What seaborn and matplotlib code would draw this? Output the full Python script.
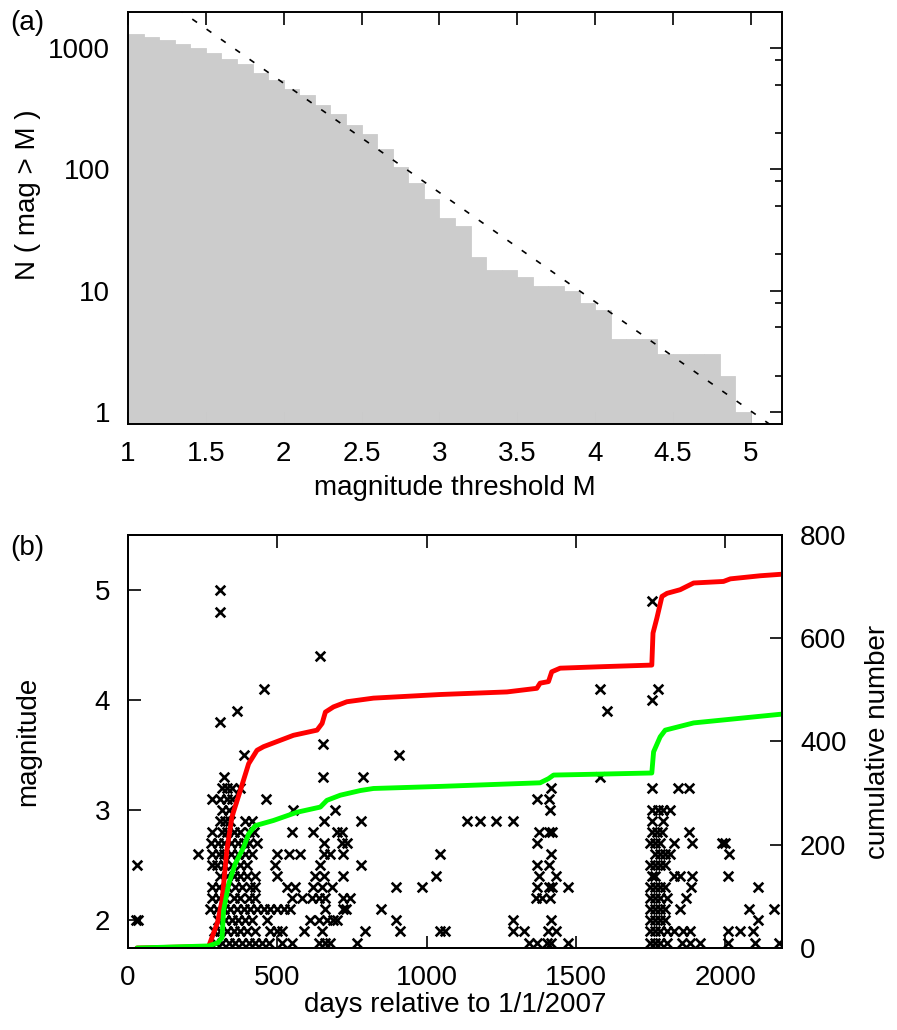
import numpy as np
import pandas as pd
import matplotlib
matplotlib.use('Agg')
import matplotlib.pyplot as plt
import seaborn as sns

# ---- panel (a): cumulative magnitude distribution ----
mag_threshold = [1.0, 1.1, 1.2, 1.3, 1.4, 1.5, 1.6, 1.7, 1.8, 1.9,
                 2.0, 2.1, 2.2, 2.3, 2.4, 2.5, 2.6, 2.7, 2.8, 2.9,
                 3.0, 3.1, 3.2, 3.3, 3.4, 3.5, 3.6, 3.7, 3.8, 3.9,
                 4.0, 4.1, 4.2, 4.3, 4.4, 4.5, 4.6, 4.7, 4.8, 4.9]
n_above = [1300, 1230, 1170, 1090, 1005, 915, 820, 745, 622, 542,
           463, 413, 342, 286, 234, 196, 148, 105, 77, 57,
           40, 34, 19, 15, 15, 13, 11, 11, 10, 8,
           7, 4, 4, 4, 3, 3, 3, 3, 2, 1]
gr_a = 4.51   # Gutenberg-Richter fit: log N = a - b M
gr_b = 0.90

# ---- panel (b): events (day, magnitude) read row by row ----
row_mags = [5.0, 4.9, 4.8, 4.4, 4.1, 4.0, 3.9, 3.8, 3.6, 3.5, 3.3, 3.2, 3.1, 3.0,
            2.9, 2.8, 2.7, 2.6, 2.5, 2.4, 2.3, 2.2, 2.1, 2.0, 1.9, 1.8]
row_days = [
    [309],
    [1754],
    [309],
    [644],
    [457, 1579, 1774],
    [1754],
    [365, 1604],
    [309],
    [653],
    [390, 909],
    [320, 653, 786, 1579],
    [315, 331, 348, 376, 1416, 1754, 1843, 1880],
    [281, 309, 331, 348, 463, 1371, 1411],
    [315, 337, 554, 694, 1414, 1754, 1776, 1793, 1816],
    [309, 326, 342, 393, 415, 655, 780, 1135, 1180, 1232, 1289, 1754, 1793],
    [281, 315, 331, 354, 376, 404, 421, 549, 621, 700, 716, 1376, 1411, 1420,
     1754, 1771, 1787, 1880],
    [277, 300, 322, 344, 367, 389, 405, 433, 655, 716, 733, 1371, 1749, 1765,
     1782, 1827, 1888, 1989, 2000],
    [236, 281, 304, 320, 344, 367, 393, 415, 499, 538, 577, 655, 678, 720, 1045,
     1416, 1765, 1782, 1799, 1816, 2011],
    [30, 281, 298, 320, 348, 376, 398, 493, 644, 780, 1371, 1411, 1749, 1765,
     1782, 1799],
    [309, 331, 354, 376, 398, 426, 499, 627, 655, 720, 1032, 1376, 1434, 1754,
     1765, 1827, 1849, 1888, 2008],
    [281, 304, 331, 359, 382, 410, 426, 532, 560, 621, 649, 683, 898, 985, 1371,
     1409, 1420, 1473, 1749, 1765, 1782, 1799, 1885, 2108],
    [281, 304, 326, 354, 376, 404, 426, 549, 582, 616, 638, 660, 720, 745, 1367,
     1386, 1414, 1749, 1765, 1782, 1804, 1869],
    [276, 298, 320, 342, 365, 387, 409, 432, 454, 476, 498, 521, 543, 660, 720,
     730, 847, 1749, 1765, 1782, 1799, 1849, 2078, 2164],
    [26, 33, 303, 326, 348, 370, 393, 415, 465, 610, 638, 666, 688, 700, 898,
     1289, 1416, 1749, 1765, 1782, 1799, 2108],
    [287, 309, 331, 354, 376, 398, 426, 476, 499, 515, 588, 649, 794, 912, 1045,
     1062, 1289, 1327, 1405, 1434, 1749, 1765, 1782, 1804, 1827, 1860, 1882,
     2008, 2050, 2092],
    [293, 315, 337, 359, 382, 404, 426, 449, 471, 515, 549, 638, 660, 678, 767,
     1344, 1369, 1403, 1416, 1475, 1749, 1765, 1782, 1804, 1855, 1882, 1916,
     2008, 2100, 2181],
]

# cumulative number curves (right axis)
red_days = [30, 270, 281, 300, 315, 331, 348, 376, 404, 432, 454, 554, 633, 650,
            661, 688, 733, 822, 1045, 1269, 1369, 1380, 1408, 1419, 1447, 1592,
            1754, 1758, 1771, 1788, 1805, 1849, 1894, 1994, 2017, 2117, 2189]
red_count = [0, 3, 20, 50, 92, 189, 254, 305, 357, 383, 390, 412, 422, 435,
             457, 467, 477, 484, 491, 496, 503, 513, 516, 535, 542, 545,
             548, 610, 639, 681, 687, 694, 707, 710, 715, 721, 724]
green_days = [30, 270, 300, 315, 320, 337, 359, 387, 404, 426, 487, 566, 644,
              666, 711, 778, 822, 1045, 1380, 1408, 1425, 1514, 1754, 1760,
              1782, 1799, 1894, 2189]
green_count = [0, 4, 10, 20, 72, 124, 163, 195, 221, 237, 247, 263, 273,
               286, 296, 305, 309, 313, 320, 328, 335, 336, 339, 380,
               409, 422, 436, 453]

sns.set_theme(style='ticks')
plt.rcParams['font.family'] = ['Liberation Sans', 'DejaVu Sans']
plt.rcParams['font.size'] = 20
plt.rcParams['axes.labelsize'] = 20
plt.rcParams['xtick.labelsize'] = 20
plt.rcParams['ytick.labelsize'] = 20
plt.rcParams['text.color'] = 'black'
plt.rcParams['axes.labelcolor'] = 'black'
plt.rcParams['axes.edgecolor'] = 'black'
plt.rcParams['xtick.color'] = 'black'
plt.rcParams['ytick.color'] = 'black'
plt.rcParams['axes.linewidth'] = 1.4
plt.rcParams['xtick.direction'] = 'in'
plt.rcParams['ytick.direction'] = 'in'
plt.rcParams['xtick.major.size'] = 9
plt.rcParams['ytick.major.size'] = 9
plt.rcParams['xtick.minor.size'] = 5
plt.rcParams['ytick.minor.size'] = 5
plt.rcParams['xtick.major.width'] = 1.2
plt.rcParams['ytick.major.width'] = 1.2
plt.rcParams['ytick.minor.width'] = 1.2
plt.rcParams['xtick.major.pad'] = 12
plt.rcParams['ytick.major.pad'] = 13

fig = plt.figure(figsize=(8.97, 10.30), dpi=100)

# ---------- (a) ----------
ax1 = fig.add_axes([0.1427, 0.5883, 0.7291, 0.400])
hist_df = pd.DataFrame({'M': [m + 0.05 for m in mag_threshold], 'N': n_above})
sns.histplot(data=hist_df, x='M', weights='N', bins=40, binrange=(1.0, 5.0),
             color='#cccccc', alpha=1, edgecolor='#cccccc', linewidth=0.6,
             ax=ax1)
ax1.set_yscale('log')
mm = np.linspace(1.0, 5.2, 60)
ax1.plot(mm, 10 ** (gr_a - gr_b * mm), color='black', lw=1.2,
         linestyle=(0, (3.5, 7)))
ax1.set_axisbelow(True)
ax1.set_xlim(1.0, 5.2)
ax1.set_ylim(0.8, 1980)
ax1.set_xticks([1, 1.5, 2, 2.5, 3, 3.5, 4, 4.5, 5])
ax1.set_xticklabels(['1', '1.5', '2', '2.5', '3', '3.5', '4', '4.5', '5'])
ax1.set_yticks([1, 10, 100, 1000])
ax1.set_yticklabels(['1', '10', '100', '1000'])
ax1.set_yticks([2, 5, 8, 20, 50, 80, 200, 500, 800], minor=True)
ax1.yaxis.set_minor_formatter(plt.NullFormatter())
ax1.tick_params(which='both', top=True, right=True)
ax1.set_xlabel('magnitude threshold M')
ax1.set_ylabel('N ( mag > M )')
ax1.xaxis.set_label_coords(0.5, -0.155)
ax1.xaxis.label.set_va('center')
ax1.yaxis.set_label_coords(-0.153, 0.556)
ax1.yaxis.label.set_va('center')
fig.text(0.031, 0.978, '(a)', va='center', ha='center')

# ---------- (b) ----------
ax2 = fig.add_axes([0.1427, 0.0796, 0.7291, 0.401])
quakes = pd.DataFrame({
    'day': [d for days in row_days for d in days],
    'mag': [m for m, days in zip(row_mags, row_days) for _ in days],
})
sns.scatterplot(data=quakes, x='day', y='mag', marker='x', color='black',
                s=48, linewidth=1.9, ax=ax2)
ax2.set_xlim(0, 2190)
ax2.set_ylim(1.75, 5.5)
ax2.set_xticks([0, 500, 1000, 1500, 2000])
ax2.set_yticks([2, 3, 4, 5])
ax2.tick_params(top=True, right=False)
ax2.set_xlabel('days relative to 1/1/2007')
ax2.set_ylabel('magnitude')
ax2.xaxis.set_label_coords(0.5, -0.138)
ax2.xaxis.label.set_va('center')
ax2.yaxis.set_label_coords(-0.153, 0.5)
ax2.yaxis.label.set_va('center')

ax3 = ax2.twinx()
sns.lineplot(x=red_days, y=red_count, color='#ff0000', lw=3.5, ax=ax3)
sns.lineplot(x=green_days, y=green_count, color='#00ff00', lw=3.5, ax=ax3)
ax3.set_ylim(0, 800)
ax3.set_yticks([0, 200, 400, 600, 800])
ax3.set_ylabel('cumulative number')
ax3.yaxis.set_label_coords(1.147, 0.5)
ax3.yaxis.label.set_va('center')
ax3.tick_params(direction='in')
fig.text(0.031, 0.468, '(b)', va='center', ha='center')

fig.savefig('out.png', dpi=100)
